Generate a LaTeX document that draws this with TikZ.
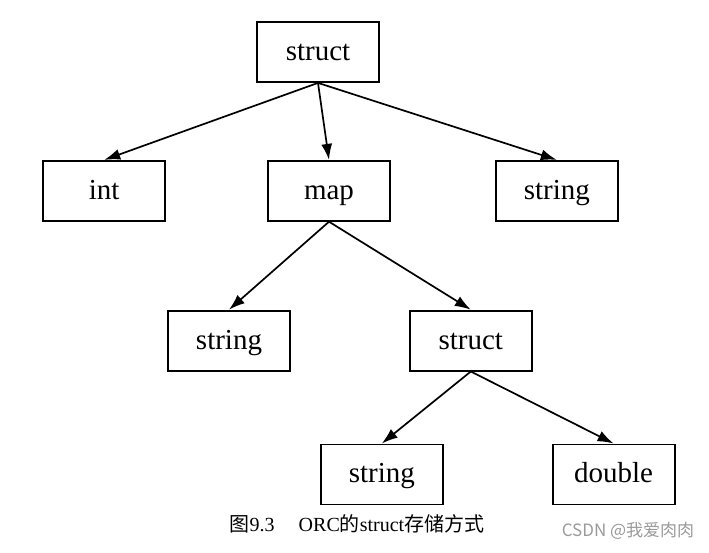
\documentclass[tikz,border=0pt]{standalone}
\usepackage{fontspec}
\setmainfont{Liberation Serif}
\newfontfamily\cjk{Noto Sans CJK SC}
\usepackage{xcolor}
\usetikzlibrary{arrows.meta,positioning}
\definecolor{orcmark}{HTML}{9A9A9A}
\tikzset{
  typebox/.style={rectangle, draw=black, line width=1.8pt, minimum width=122pt, minimum height=60pt, text height=21pt, text depth=4pt, align=center, font=\fontsize{29}{32}\selectfont, fill=white},
  flow/.style={-{Latex[length=16pt,width=11pt]}, line width=1.7pt},
}

\begin{document}
\begin{tikzpicture}[x=1pt,y=-1pt]
  \useasboundingbox (0,0) rectangle (709,552);
  \node[typebox] (root) at (318,52) {struct};
  \node[typebox,below=77pt of root,xshift=11pt] (map) {map};
  \node[typebox,left=101pt of map] (int) {int};
  \node[typebox,right=104pt of map] (str1) {string};
  \node[typebox,below=88pt of map,xshift=-100pt] (key) {string};
  \node[typebox,right=118pt of key] (inner) {struct};
  \node[typebox,below=72pt of inner,xshift=-89pt] (str2) {string};
  \node[typebox,right=108pt of str2] (dbl) {double};
  \draw[flow] (root.south)--(int.north);
  \draw[flow] (root.south)--(map.north);
  \draw[flow] (root.south)--(str1.north);
  \draw[flow] (map.south)--(key.north);
  \draw[flow] (map.south)--(inner.north);
  \draw[flow] (inner.south)--(str2.north);
  \draw[flow] (inner.south)--(dbl.north);
  % caption and watermark
  \node[font=\fontsize{20}{23}\selectfont] (caption) at (357,524) {{\cjk 图}9.3\hspace{1.2em}ORC{\cjk 的}struct{\cjk 存储方式}};
  \node[font=\cjk\fontsize{17}{20}\selectfont,text=orcmark] (mark) at (628,531) {CSDN @我爱肉肉};
\end{tikzpicture}
\end{document}
